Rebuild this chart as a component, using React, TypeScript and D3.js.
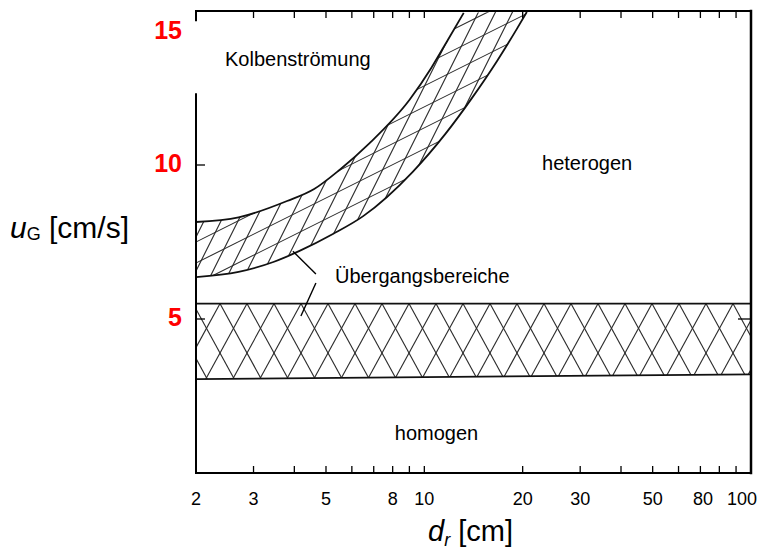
import React from "react";
import * as d3 from "d3";

const W = 763;
const H = 551;
const M = { left: 196, right: 751, top: 11, bottom: 473 };
const FONT = "'Liberation Sans', Arial, Helvetica, sans-serif";

// axes
const xDomain = [2, 100];
const yDomain = [0, 15];
const xTickLabels = [2, 3, 5, 8, 10, 20, 30, 50, 80, 100];
const xMinorTicks = [3, 4, 5, 6, 7, 8, 9, 10, 20, 30, 40, 50, 60, 70, 80, 90];
const yTickLabels = [5, 10, 15];
const yTicksLeft = [5, 10];
const yTicksRight = [5];
// the left frame line is interrupted between these two u_G values
const leftAxisGap = [12.3, 14.7];

// transition zone slug flow / heterogeneous (d_r in cm, u_G in cm/s)
const slugUpperX = [2, 2.7, 3.8, 4.6, 5.5, 6.8, 9, 10.5, 11.8, 13.2];
const slugUpperY = [8.15, 8.3, 8.83, 9.22, 9.84, 10.71, 12.11, 13.15, 14.06, 14.94];
const slugLowerX = [2, 2.7, 3.45, 4.15, 5.25, 6.5, 9.2, 11.6, 14, 16.7, 19.2, 20.6];
const slugLowerY = [6.36, 6.53, 6.85, 7.21, 7.76, 8.34, 9.77, 11.01, 12.18, 13.38, 14.42, 14.97];

// transition zone homogeneous / heterogeneous
const homX = [2, 100];
const homUpperY = [5.5, 5.5];
const homLowerY = [3.05, 3.2];

// region names
const regionNames = ["Kolbenströmung", "heterogen", "homogen"];
const regionX = [4.1, 31.5, 10.9];
const regionY = [13.2, 9.84, 1.07];

// transition label and its two leader lines
const transitionLabel = "Übergangsbereiche";
const transitionLabelAt = [5.33, 6.17];
const leaderFrom = [[4.79, 6.46], [4.79, 6.17]];
const leaderTo = [[3.96, 7.2], [4.19, 5.1]];

type Pt = [number, number];

export default function App() {
  const x = d3.scaleLog().domain(xDomain).range([M.left, M.right]);
  const y = d3.scaleLinear().domain(yDomain).range([M.bottom, M.top]);

  const curve = d3
    .line<Pt>()
    .x((d) => x(d[0]))
    .y((d) => y(d[1]))
    .curve(d3.curveMonotoneX);
  const straight = d3
    .line<Pt>()
    .x((d) => x(d[0]))
    .y((d) => y(d[1]));

  const upperPts: Pt[] = slugUpperX.map((v, i) => [v, slugUpperY[i]]);
  const lowerPts: Pt[] = slugLowerX.map((v, i) => [v, slugLowerY[i]]);
  const upperD = curve(upperPts) as string;
  const lowerD = curve(lowerPts) as string;

  // region right of / below the upper boundary
  const belowUpper =
    upperD + `L${M.right},${M.top - 5}L${M.right},${M.bottom}L${M.left},${M.bottom}Z`;
  // region left of / above the lower boundary
  const aboveLower = lowerD + `L${x(slugLowerX[slugLowerX.length - 1])},${M.top - 5}L${M.left},${M.top - 5}Z`;

  const homTop: Pt[] = homX.map((v, i) => [v, homUpperY[i]]);
  const homBottom: Pt[] = homX.map((v, i) => [v, homLowerY[i]]);
  const homBand =
    (straight(homTop) as string) +
    (straight(homBottom.slice().reverse()) as string).replace(/^M/, "L") +
    "Z";

  // diamond lattice for the straight band, crossings sit on the upper edge
  const homHatch: string[] = [];
  {
    const p = 27;
    const k = 1.83;
    const yT = y(homUpperY[0]);
    const x0 = M.left - 3;
    const L = 60;
    for (let i = -6; i < 30; i++) {
      const a = x0 + i * p;
      homHatch.push(`M${a - L},${yT - k * L}L${a + L},${yT + k * L}`);
      homHatch.push(`M${a + L},${yT - k * L}L${a - L},${yT + k * L}`);
    }
  }

  // skewed lattice for the curved band: a steep and a shallow family
  const slugHatch: string[] = [];
  {
    const steep = 2.0;
    const shallow = 0.5;
    for (let j = -14; j < 34; j++) {
      const bx = 210 + j * 17;
      const by = 277;
      slugHatch.push(
        `M${bx - 160},${by + steep * 160}L${bx + 200},${by - steep * 200}`
      );
    }
    for (let j = -9; j < 14; j++) {
      const cy = 242 + j * 21;
      slugHatch.push(
        `M${M.left - 40},${cy + shallow * 40}L${M.left + 420},${cy - shallow * 420}`
      );
    }
  }

  const tickLen = 7;
  const labelSize = 18;

  // x tick label centres, pushed left where they would collide
  const charW = 0.556 * labelSize;
  const labelCx: number[] = new Array(xTickLabels.length);
  for (let i = xTickLabels.length - 1; i >= 0; i--) {
    const half = (String(xTickLabels[i]).length * charW) / 2;
    let cx = Math.min(x(xTickLabels[i]), W - 6 - half);
    if (i < xTickLabels.length - 1) {
      const nHalf = (String(xTickLabels[i + 1]).length * charW) / 2;
      cx = Math.min(cx, labelCx[i + 1] - nHalf - 14 - half);
    }
    labelCx[i] = cx;
  }

  return (
    <svg
      width={W}
      height={H}
      viewBox={`0 0 ${W} ${H}`}
      style={{ position: "absolute", left: 0, top: 0, background: "#fff" }}
      fontFamily={FONT}
    >
      <defs>
        <clipPath id="clip-below-upper">
          <path d={belowUpper} />
        </clipPath>
        <clipPath id="clip-above-lower">
          <path d={aboveLower} />
        </clipPath>
        <clipPath id="clip-hom">
          <path d={homBand} />
        </clipPath>
        <clipPath id="clip-plot">
          <rect x={M.left} y={M.top} width={M.right - M.left} height={M.bottom - M.top} />
        </clipPath>
      </defs>

      {/* hatching */}
      <g clipPath="url(#clip-hom)" stroke="#2a2a2a" strokeWidth={1.1} fill="none">
        {homHatch.map((d, i) => (
          <path key={i} d={d} />
        ))}
      </g>
      <g clipPath="url(#clip-plot)">
        <g clipPath="url(#clip-below-upper)">
          <g clipPath="url(#clip-above-lower)" stroke="#2a2a2a" strokeWidth={1.1} fill="none">
            {slugHatch.map((d, i) => (
              <path key={i} d={d} />
            ))}
          </g>
        </g>
      </g>

      {/* band edges */}
      <g clipPath="url(#clip-plot)" fill="none" stroke="#111" strokeWidth={1.8}>
        <path d={upperD} />
        <path d={lowerD} />
        <path d={straight(homTop) as string} />
        <path d={straight(homBottom) as string} />
      </g>

      {/* frame */}
      <g stroke="#000" strokeWidth={2} fill="none" strokeLinecap="square">
        <line x1={M.left} x2={M.right} y1={M.bottom} y2={M.bottom} />
        <line x1={M.left} x2={M.right} y1={M.top} y2={M.top} />
        <line x1={M.right} x2={M.right} y1={M.top} y2={M.bottom} strokeWidth={2.5} />
        <line x1={M.left} x2={M.left} y1={M.top} y2={y(leftAxisGap[1])} />
        <line x1={M.left} x2={M.left} y1={y(leftAxisGap[0])} y2={M.bottom} />
      </g>

      {/* ticks */}
      <g stroke="#000" strokeWidth={1.3}>
        {xMinorTicks.map((v) => (
          <line key={`b${v}`} x1={x(v)} x2={x(v)} y1={M.bottom} y2={M.bottom - tickLen} />
        ))}
        {xMinorTicks.map((v) => (
          <line key={`t${v}`} x1={x(v)} x2={x(v)} y1={M.top} y2={M.top + tickLen} />
        ))}
        {yTicksLeft.map((v) => (
          <line key={`l${v}`} x1={M.left} x2={M.left + 9} y1={y(v)} y2={y(v)} />
        ))}
        {yTicksRight.map((v) => (
          <line key={`r${v}`} x1={M.right} x2={M.right - 13} y1={y(v)} y2={y(v)} />
        ))}
      </g>

      {/* x tick labels */}
      <g fontSize={labelSize} fill="#000" textAnchor="middle">
        {xTickLabels.map((v, i) => (
          <text key={v} x={labelCx[i]} y={M.bottom + 32}>
            {v}
          </text>
        ))}
      </g>

      {/* y tick labels */}
      <g fontSize={25} fontWeight="bold" fill="#ff0000" textAnchor="end">
        {yTickLabels.map((v) => (
          <text key={v} x={182} y={Math.max(y(v) + 7, M.top + 28)}>
            {v}
          </text>
        ))}
      </g>

      {/* axis titles */}
      <text x={10} y={238} fontSize={30} fill="#000">
        <tspan fontStyle="italic">u</tspan>
        <tspan fontSize={18} dy={2}>G</tspan>
        <tspan dy={-2}> [cm/s]</tspan>
      </text>
      <text x={428} y={541} fontSize={29} fill="#000">
        <tspan fontStyle="italic">d</tspan>
        <tspan fontSize={18} fontStyle="italic" dy={5}>r</tspan>
        <tspan dy={-5}> [cm]</tspan>
      </text>

      {/* region names */}
      <g fontSize={20} fill="#000" textAnchor="middle">
        {regionNames.map((n, i) => (
          <text key={n} x={x(regionX[i])} y={y(regionY[i])}>
            {n}
          </text>
        ))}
      </g>

      {/* transition label with leaders */}
      <text
        x={x(transitionLabelAt[0])}
        y={y(transitionLabelAt[1])}
        fontSize={20}
        fill="#000"
      >
        {transitionLabel}
      </text>
      <g stroke="#000" strokeWidth={1.4}>
        {leaderFrom.map((f, i) => (
          <line
            key={i}
            x1={x(f[0]) - 4}
            y1={y(f[1])}
            x2={x(leaderTo[i][0])}
            y2={y(leaderTo[i][1])}
          />
        ))}
      </g>
    </svg>
  );
}
